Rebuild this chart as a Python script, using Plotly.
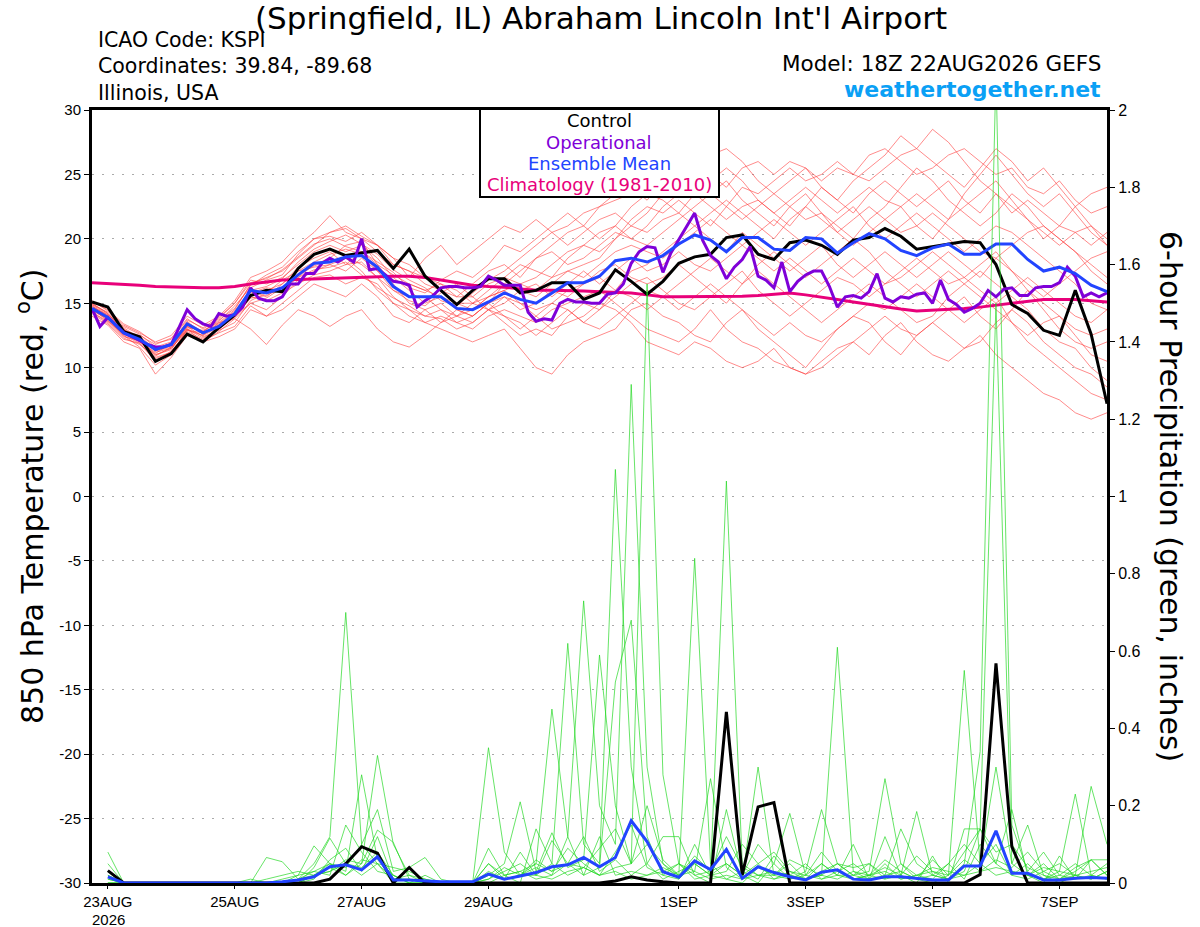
import pandas as pd
import plotly.graph_objects as go

# time axes: 6-hourly GEFS, 3-hourly operational run
times = pd.date_range("2026-08-22 18:00", periods=65, freq="6h")
op_times = pd.date_range("2026-08-22 18:00", periods=129, freq="3h")
precip_times = times[1:]

# 850 hPa temperature (C)
control_temp = [15.1, 14.7, 12.8, 12.4, 10.5, 11.1, 12.6, 12.0, 13.1, 14.1,
                15.6, 16.0, 15.9, 17.7, 18.8, 19.2, 18.7, 18.9, 19.1, 17.7,
                19.2, 17.1, 16.0, 14.9, 16.0, 16.9, 16.9, 15.8, 16.0, 16.6,
                16.6, 15.3, 15.8, 17.6, 16.7, 15.7, 16.7, 18.1, 18.6, 18.8,
                20.1, 20.3, 18.8, 18.4, 19.7, 19.9, 19.5, 18.8, 19.9, 20.1,
                20.8, 20.2, 19.2, 19.4, 19.6, 19.8, 19.7, 18.0, 14.9, 14.2,
                12.9, 12.5, 16.0, 12.6, 7.2]

mean_temp = [14.6, 13.9, 12.7, 12.2, 11.4, 11.8, 13.4, 12.7, 13.2, 14.2,
             16.0, 15.8, 16.2, 17.2, 18.1, 18.2, 18.6, 18.7, 17.8, 16.3,
             15.5, 15.5, 15.5, 14.6, 14.5, 15.1, 15.8, 15.3, 15.0, 15.8,
             16.6, 16.6, 17.1, 18.3, 18.5, 18.2, 18.7, 19.6, 20.3, 19.9,
             19.0, 20.1, 20.1, 19.2, 19.1, 20.1, 20.0, 18.9, 19.7, 20.4,
             20.0, 19.1, 18.7, 19.3, 19.6, 18.8, 18.8, 19.6, 19.6, 18.4,
             17.5, 17.8, 17.3, 16.4, 15.9]

clim_temp = [16.6, 16.55, 16.5, 16.4, 16.3, 16.25, 16.2, 16.2, 16.2, 16.3,
             16.5, 16.65, 16.8, 16.85, 16.9, 16.95, 17.0, 17.05, 17.1, 17.1,
             17.1, 17.0, 16.8, 16.6, 16.4, 16.3, 16.25, 16.1, 16.0, 16.0,
             16.0, 15.95, 15.9, 15.85, 15.8, 15.65, 15.5, 15.5, 15.5, 15.5,
             15.5, 15.55, 15.6, 15.7, 15.8, 15.65, 15.5, 15.3, 15.1, 14.9,
             14.7, 14.55, 14.4, 14.45, 14.5, 14.6, 14.7, 14.85, 15.0, 15.15,
             15.3, 15.3, 15.3, 15.2, 15.1]

oper_temp = [14.6, 13.2, 13.9, 13.3, 12.7, 12.4, 12.1, 11.8, 11.6, 11.6,
             11.8, 13.2, 14.5, 13.8, 13.4, 13.2, 14.2, 14.0, 14.1, 14.7,
             16.2, 15.4, 15.2, 15.2, 15.5, 16.5, 16.5, 17.3, 17.3, 18.1,
             18.5, 18.2, 18.6, 18.2, 20.0, 17.6, 17.7, 17.2, 16.7, 16.6,
             16.4, 14.7, 15.2, 15.6, 16.2, 16.3, 16.3, 16.2, 16.2, 16.3,
             17.1, 16.8, 16.4, 16.4, 16.4, 14.3, 13.6, 13.8, 13.7, 15.0,
             15.3, 15.1, 15.1, 15.0, 15.0, 15.7, 15.8, 16.5, 18.1, 19.0,
             19.4, 19.3, 17.4, 18.9, 19.9, 20.9, 22.0, 19.9, 18.7, 18.2,
             16.9, 17.8, 18.4, 19.4, 17.1, 16.8, 16.2, 18.2, 15.9, 16.7,
             17.2, 17.5, 17.5, 16.3, 14.7, 15.5, 15.6, 15.4, 15.9, 17.3,
             15.4, 15.1, 15.5, 15.4, 15.7, 15.8, 15.0, 16.8, 15.3, 14.9,
             14.3, 14.6, 15.0, 16.0, 15.5, 16.1, 16.2, 15.6, 15.6, 16.2,
             16.3, 16.3, 16.6, 17.8, 17.1, 15.5, 15.8, 15.5, 15.8]

# ensemble members, temperature
temp_m01 = [14.8, 14.0, 13.0, 12.0, 11.0, 11.5, 13.0, 12.5, 13.5,
            14.5, 16.5, 17.0, 17.5, 18.5, 19.5, 20.5, 20.8, 20.0, 19.0, 18.0, 17.5,
            16.5, 16.0, 15.5, 16.5, 17.5, 18.0, 17.0, 18.5, 19.5, 20.5, 21.0, 22.5, 23.5, 24.0, 23.0, 24.5,
            25.5, 26.0, 25.0, 24.0, 25.5, 26.0, 25.0, 26.0, 25.5, 24.5, 25.5, 25.0, 26.5, 27.0, 26.0, 25.0,
            25.5, 26.5, 27.0, 26.0, 25.0, 25.5, 24.0, 23.5, 24.5, 23.0, 22.0, 22.5]
temp_m02 = [14.3, 13.5, 12.3, 11.8, 10.8, 11.2, 12.8, 12.2, 13.0,
            14.0, 15.5, 15.2, 15.8, 16.5, 17.2, 17.5, 18.0, 18.2, 17.0, 15.5, 14.5,
            14.0, 14.5, 13.5, 13.0, 14.0, 14.5, 14.0, 13.5, 14.5, 15.0, 15.5, 16.0, 15.0, 14.0, 13.0, 12.5,
            12.0, 13.0, 14.5, 13.0, 12.0, 11.5, 10.5, 10.0, 9.5, 10.5, 11.5, 12.0, 11.0, 12.5, 13.5, 12.0,
            11.0, 10.5, 11.5, 12.5, 11.0, 10.0, 9.0, 8.0, 7.5, 6.5, 6.0, 6.5]
temp_m03 = [15.0, 14.2, 12.9, 12.5, 11.8, 12.3, 13.8, 13.0, 13.8,
            15.0, 16.8, 16.5, 17.0, 18.0, 19.0, 19.5, 19.0, 19.5, 18.5, 17.0, 16.0,
            15.0, 15.5, 14.5, 14.0, 15.0, 16.5, 16.0, 15.5, 16.5, 17.5, 18.0, 18.5, 20.0, 21.0, 20.5, 21.5,
            22.0, 23.5, 22.5, 21.5, 22.5, 23.0, 22.0, 21.0, 22.5, 24.0, 23.0, 22.0, 23.5, 24.5, 23.5, 22.5,
            23.5, 24.5, 23.0, 22.0, 23.5, 22.5, 21.5, 20.0, 21.0, 20.5, 19.5, 20.5]
temp_m04 = [14.5, 13.7, 12.5, 11.6, 10.2, 11.0, 13.0, 12.0, 12.8,
            13.8, 15.0, 14.5, 15.5, 16.8, 17.5, 18.0, 18.5, 17.5, 16.0, 15.0, 14.0,
            13.5, 13.0, 12.5, 12.0, 12.5, 13.0, 11.5, 10.0, 9.5, 11.0, 12.0, 12.5, 13.0, 14.5, 15.0, 14.0,
            13.5, 12.5, 12.0, 13.5, 14.5, 13.0, 12.0, 11.0, 10.0, 11.5, 13.0, 14.0, 13.5, 12.0, 11.0, 12.5,
            13.5, 14.5, 15.5, 14.0, 13.0, 14.5, 16.0, 15.0, 14.0, 12.5, 11.0, 10.5]
temp_m05 = [14.7, 14.1, 13.2, 12.6, 11.6, 12.0, 13.5, 12.8, 13.6,
            14.8, 16.2, 16.8, 17.2, 18.8, 20.0, 20.5, 21.0, 20.2, 19.5, 18.5, 18.0,
            17.0, 16.5, 16.0, 15.0, 16.0, 17.0, 16.5, 17.0, 18.0, 19.0, 19.5, 20.5, 21.0, 20.0, 19.5, 20.5,
            21.5, 22.5, 23.5, 24.5, 23.0, 22.0, 21.0, 22.5, 23.5, 22.0, 20.5, 21.5, 22.5, 21.5, 20.5, 21.0,
            22.0, 21.0, 20.0, 19.0, 18.5, 17.5, 16.5, 15.5, 16.5, 17.5, 18.5, 19.0]
temp_m06 = [14.4, 13.8, 12.6, 12.0, 11.2, 11.5, 12.9, 12.5, 13.1,
            14.0, 15.8, 16.2, 16.0, 17.0, 18.0, 18.5, 19.5, 19.8, 18.0, 16.5, 15.0,
            14.5, 15.0, 14.0, 14.5, 15.5, 16.0, 15.0, 14.5, 15.0, 16.0, 16.5, 17.5, 18.0, 17.0, 16.5, 17.0,
            18.0, 17.0, 16.0, 15.0, 16.5, 17.5, 16.5, 15.5, 14.5, 13.5, 14.5, 15.5, 16.5, 15.5, 14.5, 13.5,
            14.0, 15.5, 16.5, 17.5, 16.5, 15.5, 14.5, 13.0, 12.0, 11.5, 10.0, 9.0]
temp_m07 = [14.9, 14.3, 13.1, 12.3, 11.3, 11.8, 13.3, 12.7, 13.4,
            14.4, 16.0, 15.5, 16.5, 17.8, 18.5, 19.0, 18.0, 19.0, 18.0, 17.2, 16.5,
            16.0, 16.5, 15.5, 15.5, 16.5, 17.0, 18.0, 17.5, 17.0, 18.5, 19.5, 19.0, 20.0, 21.5, 22.5, 22.0,
            23.0, 22.0, 21.0, 22.5, 24.0, 23.5, 24.5, 25.5, 24.5, 25.0, 26.0, 25.0, 24.5, 25.5, 26.5, 27.0,
            26.0, 25.0, 24.0, 25.5, 27.0, 26.0, 24.5, 25.5, 24.0, 22.5, 21.0, 20.0]
temp_m08 = [14.6, 13.6, 12.4, 12.1, 10.9, 11.6, 13.2, 12.4, 12.9,
            13.5, 15.2, 15.8, 16.8, 17.5, 17.8, 18.0, 17.5, 18.5, 17.5, 16.0, 15.5,
            15.5, 14.5, 14.0, 13.5, 14.5, 15.5, 14.5, 15.0, 16.0, 15.5, 16.5, 17.0, 16.0, 17.5, 18.0, 19.0,
            20.0, 21.0, 20.0, 19.0, 20.5, 19.5, 18.5, 17.5, 18.5, 19.5, 18.0, 17.0, 18.0, 19.0, 18.0, 17.0,
            18.0, 19.0, 18.0, 17.0, 18.5, 19.5, 20.5, 21.0, 20.0, 19.0, 18.0, 17.0]
temp_m09 = [14.2, 13.4, 12.2, 11.9, 10.5, 11.3, 12.7, 12.1, 12.7,
            13.2, 14.8, 14.0, 15.0, 16.0, 17.0, 17.2, 16.5, 17.0, 16.5, 15.0, 14.5,
            13.5, 14.0, 13.5, 14.0, 15.0, 15.5, 15.0, 14.0, 13.0, 13.5, 14.0, 15.0, 14.5, 13.5, 12.0, 11.5,
            11.0, 12.0, 11.5, 10.5, 10.0, 10.5, 11.5, 10.0, 9.5, 10.0, 11.0, 12.0, 13.0, 14.0, 13.0, 12.5,
            13.5, 12.5, 11.5, 12.0, 13.5, 14.5, 13.5, 12.0, 11.0, 10.0, 9.5, 8.5]
temp_m10 = [15.2, 14.4, 13.3, 12.7, 12.0, 12.5, 14.0, 13.3, 14.0,
            15.2, 17.0, 17.5, 18.2, 19.5, 20.5, 21.8, 20.5, 20.0, 19.5, 18.5, 17.0,
            18.5, 19.5, 18.0, 19.0, 20.0, 21.0, 20.5, 21.5, 20.5, 21.0, 22.0, 22.5, 23.0, 23.5, 24.5, 25.0,
            24.0, 25.0, 26.5, 27.0, 26.0, 24.5, 23.5, 24.5, 25.5, 24.0, 23.0, 24.5, 25.5, 26.5, 28.0, 27.0,
            28.5, 27.5, 26.0, 24.5, 23.5, 22.0, 23.0, 22.0, 21.0, 22.5, 23.5, 24.0]
temp_m11 = [14.5, 13.9, 12.8, 12.4, 11.5, 11.9, 13.6, 12.6, 13.3,
            14.3, 15.6, 16.0, 16.5, 17.5, 18.2, 18.8, 19.2, 18.8, 17.5, 16.8, 16.5,
            16.0, 15.5, 15.0, 15.0, 15.5, 16.0, 16.5, 16.0, 17.0, 17.5, 17.0, 18.0, 19.0, 19.5, 19.0, 18.5,
            19.5, 20.5, 21.5, 20.5, 19.5, 20.5, 21.5, 20.5, 19.5, 20.5, 21.5, 22.5, 21.0, 20.0, 21.0, 22.0,
            21.0, 20.0, 19.0, 20.0, 21.0, 20.5, 19.5, 18.5, 17.5, 16.5, 15.0, 14.5]
temp_m12 = [14.0, 13.3, 12.0, 11.5, 9.5, 10.8, 12.5, 12.0, 12.4,
            13.0, 14.5, 14.0, 14.5, 15.5, 16.5, 16.0, 15.5, 16.5, 15.5, 14.0, 13.5,
            14.5, 13.5, 14.0, 15.0, 14.5, 13.5, 12.5, 13.0, 12.5, 14.0, 15.0, 14.5, 15.5, 16.5, 17.0, 16.0,
            15.0, 14.5, 15.5, 16.5, 17.5, 16.0, 15.0, 14.0, 15.0, 16.0, 17.0, 16.5, 15.5, 16.5, 17.5, 18.5,
            17.5, 16.5, 17.0, 18.0, 19.0, 17.5, 16.0, 14.5, 13.0, 12.0, 11.5, 12.0]
temp_m13 = [14.8, 14.0, 12.9, 12.3, 11.4, 11.7, 13.1, 12.9, 13.5,
            13.8, 13.0, 11.8, 13.3, 14.5, 14.0, 13.2, 14.0, 14.5, 13.0, 12.0, 11.6,
            12.5, 13.5, 14.5, 14.0, 15.0, 14.0, 13.0, 14.0, 15.0, 14.5, 13.5, 14.5, 16.0, 15.5, 14.5, 15.5,
            16.5, 17.5, 18.5, 17.5, 16.5, 18.0, 19.0, 18.0, 17.0, 18.0, 19.0, 20.0, 19.0, 17.5, 16.5, 15.5,
            16.5, 17.5, 16.5, 15.5, 14.5, 13.5, 12.5, 13.5, 14.0, 13.0, 12.5, 13.0]
temp_m14 = [15.0, 14.2, 13.0, 12.2, 11.0, 11.4, 13.2, 12.8, 13.7,
            14.6, 16.4, 17.2, 17.8, 19.0, 20.0, 20.2, 19.8, 20.5, 19.5, 18.0, 17.5,
            17.0, 16.0, 15.0, 14.5, 15.5, 16.5, 17.5, 18.5, 19.0, 18.0, 18.5, 19.5, 20.5, 20.0, 21.0, 22.5,
            23.5, 24.5, 23.5, 22.5, 21.5, 22.5, 23.5, 22.5, 21.5, 22.0, 21.0, 20.0, 21.5, 22.5, 24.0, 25.5,
            24.5, 23.0, 22.0, 21.0, 22.0, 23.5, 22.5, 21.0, 20.0, 19.0, 17.5, 16.5]
temp_m15 = [14.9, 14.1, 12.7, 12.1, 11.1, 11.9, 13.4, 12.6, 13.2,
            14.2, 16.0, 16.3, 16.9, 18.2, 19.2, 19.8, 20.3, 19.6, 18.8, 17.6, 16.8,
            16.2, 15.2, 14.8, 15.8, 16.8, 17.5, 18.5, 19.5, 20.5, 19.5, 20.5, 21.5, 22.0, 21.0, 22.0, 23.5,
            24.5, 23.5, 24.5, 25.5, 24.5, 23.0, 22.0, 23.0, 24.0, 23.0, 22.0, 23.0, 24.0, 23.0, 22.5, 23.5,
            22.5, 21.5, 22.5, 23.5, 24.5, 23.0, 21.5, 20.5, 19.5, 20.5, 21.0, 19.5]
temp_m16 = [14.3, 13.6, 12.6, 12.3, 11.3, 11.6, 13.0, 12.3, 13.0,
            13.9, 15.4, 15.6, 16.2, 17.2, 17.9, 18.3, 18.6, 18.0, 17.0, 16.0, 15.2,
            14.8, 15.8, 16.5, 15.5, 14.5, 15.0, 16.0, 16.5, 15.5, 16.5, 17.5, 16.5, 17.5, 18.5, 17.5, 18.0,
            19.0, 18.0, 17.5, 18.5, 19.5, 18.5, 17.5, 18.5, 17.5, 16.5, 17.5, 18.5, 17.5, 16.5, 17.0, 18.0,
            19.0, 18.0, 17.0, 16.0, 15.0, 16.0, 17.0, 16.0, 15.0, 14.0, 13.5, 14.5]
temp_m17 = [14.6, 13.8, 12.5, 11.9, 10.7, 11.2, 12.9, 12.7, 13.3,
            14.0, 15.0, 15.4, 16.2, 17.0, 17.6, 17.8, 18.2, 17.2, 16.2, 15.4, 14.8,
            14.0, 13.8, 13.0, 13.5, 14.5, 14.0, 13.5, 12.5, 13.5, 14.5, 13.5, 13.0, 14.0, 15.0, 16.0, 15.5,
            14.5, 15.5, 16.5, 15.5, 14.5, 13.5, 12.5, 13.5, 12.5, 12.0, 13.0, 14.0, 15.0, 14.5, 15.5, 16.5,
            15.5, 14.5, 13.5, 14.5, 15.5, 13.5, 12.0, 11.0, 10.0, 9.0, 8.0, 7.5]
temp_m18 = [15.1, 14.5, 13.4, 12.8, 11.9, 12.2, 13.7, 13.1, 13.9,
            15.0, 16.6, 16.9, 17.6, 18.6, 19.6, 20.0, 19.4, 19.0, 18.2, 17.4, 16.2,
            15.8, 16.8, 17.5, 17.0, 18.0, 19.5, 19.0, 20.0, 21.0, 22.0, 21.0, 20.0, 21.0, 22.5, 23.5, 23.0,
            22.0, 21.0, 22.0, 23.0, 22.0, 21.0, 20.0, 21.5, 22.5, 21.5, 20.5, 19.5, 20.5, 21.5, 22.5, 21.0,
            20.0, 21.5, 23.5, 25.0, 26.5, 25.0, 23.5, 22.5, 23.5, 22.0, 20.5, 19.5]

# 6-hour precipitation (inches), from the first 6-h step
control_precip = [0.032, 0, 0, 0, 0, 0, 0, 0,
                  0, 0, 0, 0, 0, 0, 0.01, 0.05,
                  0.094, 0.077, 0, 0.04, 0, 0, 0, 0,
                  0, 0, 0, 0, 0, 0, 0, 0,
                  0.005, 0.016, 0.008, 0.003, 0, 0, 0, 0.443,
                  0.021, 0.197, 0.208, 0, 0, 0, 0, 0,
                  0, 0, 0, 0, 0, 0, 0, 0.022,
                  0.568, 0.094, 0, 0, 0, 0, 0, 0]
mean_precip = [0.016, 0, 0, 0, 0, 0, 0, 0,
               0, 0, 0, 0.003, 0.008, 0.016, 0.042, 0.047,
               0.034, 0.068, 0.008, 0.008, 0.006, 0.003, 0.003, 0.003,
               0.023, 0.01, 0.018, 0.027, 0.042, 0.047, 0.066, 0.042,
               0.066, 0.161, 0.107, 0.029, 0.015, 0.057, 0.035, 0.087,
               0.012, 0.042, 0.027, 0.016, 0.008, 0.028, 0.034, 0.01,
               0.008, 0.016, 0.016, 0.012, 0.008, 0.008, 0.044, 0.044,
               0.135, 0.025, 0.025, 0.008, 0.008, 0.012, 0.014, 0.012]

precip_m01 = [0.08, 0, 0, 0, 0, 0, 0, 0,
              0, 0, 0, 0, 0.01, 0.05, 0.12, 0.70,
              0.10, 0.05, 0, 0, 0, 0, 0, 0,
              0.09, 0.02, 0, 0.14, 0.05, 0.62, 0.10, 0.05,
              1.07, 0.30, 0.05, 0.12, 0.12, 0.02, 0, 0.19,
              0.02, 0, 0.05, 0.18, 0.02, 0.05, 0.02, 0.10,
              0.01, 0.12, 0.02, 0, 0.07, 0, 0.14, 0.14,
              0.05, 0.19, 0.02, 0, 0.07, 0.01, 0.06, 0.06]
precip_m02 = [0.05, 0, 0, 0, 0, 0, 0, 0,
              0, 0, 0, 0, 0, 0.02, 0.05, 0.03,
              0.28, 0.06, 0.02, 0, 0, 0, 0, 0,
              0.35, 0.08, 0.02, 0.05, 0.45, 0.12, 0.73, 0.20,
              0.10, 1.29, 0.30, 0.05, 0.02, 0.84, 0.05, 0.01,
              0, 0.04, 0.02, 0.01, 0.03, 0.19, 0.05, 0.02,
              0.03, 0.27, 0.05, 0.01, 0, 0.02, 0.55, 0.05,
              0.30, 0.05, 0.15, 0.02, 0, 0.02, 0.25, 0.10]
precip_m03 = [0.03, 0, 0, 0, 0, 0, 0, 0,
              0, 0, 0.01, 0.02, 0.03, 0.02, 0.03, 0.06,
              0.05, 0.33, 0.10, 0.02, 0.01, 0, 0, 0,
              0.02, 0.05, 0.21, 0.03, 0.13, 0.04, 0.06, 0.59,
              0.20, 0.05, 1.55, 0.28, 0.05, 0.03, 0.27, 0.04,
              0.01, 0.30, 0.02, 0.05, 0.01, 0.02, 0.61, 0.03,
              0.01, 0.02, 0.14, 0.05, 0.02, 0.01, 0.05, 0.34,
              2.10, 0.15, 0.03, 0.08, 0.02, 0.01, 0.02, 0.01]
precip_m04 = [0.02, 0, 0, 0, 0, 0, 0, 0,
              0, 0, 0.066, 0.055, 0.01, 0.03, 0.05, 0.04,
              0.10, 0.19, 0.03, 0.04, 0.066, 0.01, 0, 0,
              0.05, 0.02, 0.03, 0.01, 0.02, 0.12, 0.02, 0.04,
              0.52, 0.68, 0.12, 0.02, 0.01, 0.05, 0.02, 1.04,
              0.05, 0.02, 0.01, 0.03, 0.01, 0.05, 0.02, 0.01,
              0.02, 0.04, 0.02, 0.185, 0.02, 0.01, 0.03, 0.14,
              1.50, 0.05, 0.02, 0.01, 0.03, 0.23, 0.02, 0.01]
precip_m05 = [0.01, 0, 0, 0, 0, 0, 0, 0,
              0, 0, 0, 0, 0.02, 0.096, 0.05, 0.02,
              0.05, 0.137, 0.105, 0.01, 0, 0, 0, 0,
              0.01, 0.03, 0.05, 0.02, 0.05, 0.02, 0.04, 0.02,
              0.04, 0.05, 0.10, 0.05, 0.01, 0.10, 0.02, 0.05,
              0.02, 0.10, 0.05, 0.01, 0.02, 0.01, 0.03, 0.05,
              0.02, 0.01, 0.05, 0.02, 0.04, 0.03, 0.02, 0.05,
              0.10, 0.02, 0.01, 0.03, 0.01, 0.02, 0.01, 0.03]
precip_m06 = [0, 0, 0, 0, 0, 0, 0, 0,
              0, 0, 0, 0, 0, 0.04, 0.116, 0.05,
              0.02, 0.05, 0.04, 0.03, 0.01, 0, 0, 0,
              0.03, 0.01, 0.02, 0.04, 0.02, 0.05, 0.02, 0.12,
              0.02, 0.03, 0.02, 0.03, 0.05, 0.01, 0.02, 0.03,
              0.10, 0.05, 0.01, 0.02, 0.05, 0.01, 0.02, 0.02,
              0.01, 0.05, 0.01, 0.02, 0.01, 0.05, 0.01, 0.10,
              0.05, 0.02, 0.05, 0.01, 0.02, 0.05, 0.02, 0.05]
precip_m07 = [0, 0, 0, 0, 0, 0, 0, 0,
              0, 0, 0, 0, 0, 0.02, 0.03, 0.05,
              0.04, 0.08, 0.02, 0, 0.02, 0, 0, 0,
              0, 0.02, 0.03, 0.05, 0.03, 0.05, 0.12, 0.03,
              0.06, 0.02, 0.05, 0.01, 0.03, 0.05, 0.02, 0.01,
              0.03, 0.01, 0.07, 0.02, 0.01, 0.03, 0.05, 0.02,
              0.05, 0.02, 0.03, 0.01, 0.02, 0.05, 0.10, 0.05,
              0.02, 0.03, 0.02, 0.05, 0.01, 0.03, 0.06, 0.02]
precip_m08 = [0.01, 0, 0, 0, 0, 0, 0, 0,
              0, 0, 0, 0, 0.01, 0.02, 0.04, 0.02,
              0.06, 0.05, 0.01, 0.02, 0, 0, 0, 0,
              0.02, 0.01, 0.02, 0.02, 0.01, 0.03, 0.04, 0.02,
              0.03, 0.01, 0.02, 0.04, 0.02, 0.03, 0.01, 0.02,
              0.01, 0.02, 0.03, 0.02, 0.01, 0.02, 0.01, 0.03,
              0.02, 0.03, 0.01, 0.02, 0.03, 0.01, 0.02, 0.03,
              0.04, 0.03, 0.02, 0.04, 0.03, 0.02, 0.01, 0.03]
precip_m09 = [0.02, 0, 0, 0, 0, 0, 0, 0,
              0, 0.01, 0, 0, 0, 0.01, 0.06, 0.09,
              0.03, 0.12, 0.01, 0.01, 0, 0, 0, 0,
              0.05, 0.01, 0.08, 0.02, 0.11, 0.05, 0.04, 0.09,
              0.14, 0.05, 0.20, 0.06, 0.02, 0.07, 0.03, 0.05,
              0.02, 0.05, 0.08, 0.03, 0.02, 0.08, 0.03, 0.01,
              0.02, 0.06, 0.03, 0.01, 0.06, 0.02, 0.08, 0.14,
              0.08, 0.10, 0.04, 0.02, 0.01, 0.04, 0.06, 0.02]
precip_m10 = [0, 0, 0, 0, 0, 0, 0, 0,
              0, 0, 0, 0.01, 0.02, 0.03, 0.02, 0.15,
              0.08, 0.03, 0.02, 0, 0, 0, 0, 0,
              0.01, 0.04, 0.02, 0.06, 0.03, 0.09, 0.05, 0.02,
              0.08, 0.15, 0.04, 0.02, 0.05, 0.02, 0.03, 0.12,
              0.04, 0.02, 0.02, 0.06, 0.04, 0.02, 0.05, 0.04,
              0.05, 0.01, 0.02, 0.07, 0.03, 0.02, 0.06, 0.03,
              0.06, 0.04, 0.08, 0.03, 0.05, 0.02, 0.03, 0.04]

temp_members = [temp_m01, temp_m02, temp_m03, temp_m04, temp_m05, temp_m06,
                temp_m07, temp_m08, temp_m09, temp_m10, temp_m11, temp_m12,
                temp_m13, temp_m14, temp_m15, temp_m16, temp_m17, temp_m18]
precip_members = [precip_m01, precip_m02, precip_m03, precip_m04, precip_m05,
                  precip_m06, precip_m07, precip_m08, precip_m09, precip_m10]

tick_dates = ["2026-08-23", "2026-08-25", "2026-08-27", "2026-08-29",
              "2026-09-01", "2026-09-03", "2026-09-05", "2026-09-07"]
tick_labels = ["23AUG", "25AUG", "27AUG", "29AUG", "1SEP", "3SEP", "5SEP", "7SEP"]
temp_ticks = [-30, -25, -20, -15, -10, -5, 0, 5, 10, 15, 20, 25, 30]
precip_ticks = [0, 0.2, 0.4, 0.6, 0.8, 1, 1.2, 1.4, 1.6, 1.8, 2]

PURPLE = "#7f00d8"
BLUE = "#2244ff"
PINK = "#e8007a"
TEXT_FONT = "DejaVu Sans, Liberation Sans, sans-serif"
TICK_FONT = "Liberation Sans, Arial, sans-serif"

fig = go.Figure()

for m in temp_members:
    fig.add_trace(go.Scatter(x=times, y=m, mode="lines",
                             line=dict(color="rgba(255,60,60,0.75)", width=0.8)))

fig.add_trace(go.Scatter(x=times, y=clim_temp, mode="lines", line=dict(color=PINK, width=3)))
fig.add_trace(go.Scatter(x=times, y=control_temp, mode="lines", line=dict(color="black", width=3)))
fig.add_trace(go.Scatter(x=op_times, y=oper_temp, mode="lines", line=dict(color=PURPLE, width=3)))
fig.add_trace(go.Scatter(x=times, y=mean_temp, mode="lines", line=dict(color=BLUE, width=3)))

for m in precip_members:
    fig.add_trace(go.Scatter(x=precip_times, y=m, mode="lines", yaxis="y2",
                             line=dict(color="rgba(30,215,30,0.85)", width=0.8)))
fig.add_trace(go.Scatter(x=precip_times, y=control_precip, mode="lines", yaxis="y2",
                         line=dict(color="black", width=3)))
fig.add_trace(go.Scatter(x=precip_times, y=mean_precip, mode="lines", yaxis="y2",
                         line=dict(color=BLUE, width=3)))


def px(x):
    return (x - 92) / 1015


def py(y):
    return (883 - y) / 773


def note(text, x, y, size, xanchor="left", color="black", angle=0, family=TEXT_FONT):
    fig.add_annotation(text=text, x=px(x), y=py(y), xref="paper", yref="paper",
                       xanchor=xanchor, yanchor="middle", showarrow=False,
                       textangle=angle, font=dict(family=family, size=size, color=color))


note("(Springfield, IL) Abraham Lincoln Int'l Airport", 601, 18, 31, "center")
note("ICAO Code: KSPI", 96, 40, 20.5)
note("Coordinates: 39.84, -89.68", 96, 66, 20.5)
note("Illinois, USA", 96, 93, 20.5)
note("Model: 18Z 22AUG2026 GEFS", 1103, 63, 21.5, "right")
note("<b>weathertogether.net</b>", 1103, 89, 22, "right", "#0aa0f5")
note("850 hPa Temperature (red, <sup>o</sup>C)", 30, 496, 30, "center", angle=-90)
note("6-hour Precipitation (green, inches)", 1171, 496, 30, "center", angle=90)
# year under the first date tick
note("2026", 108, 919, 15, "center", family=TICK_FONT)

fig.add_shape(type="rect", xref="paper", yref="paper", x0=px(480), x1=px(719),
              y0=py(197), y1=py(109), fillcolor="white",
              line=dict(color="black", width=2), layer="above")
note("Control", 599, 121, 18, "center")
note("Operational", 599, 142, 18, "center", PURPLE)
note("Ensemble Mean", 599, 163, 18, "center", BLUE)
note("Climatology (1981-2010)", 599, 185, 18, "center", PINK)

fig.update_layout(
    width=1200, height=927,
    margin=dict(l=92, r=93, t=110, b=44),
    paper_bgcolor="white", plot_bgcolor="white",
    showlegend=False,
    font=dict(family=TICK_FONT, color="black"),
    xaxis=dict(range=[times[0], times[-1]], tickvals=tick_dates, ticktext=tick_labels,
               ticks="outside", ticklen=3, tickcolor="black", tickfont=dict(size=15),
               showline=True, linewidth=3, linecolor="black", mirror=True,
               showgrid=False, zeroline=False, automargin=False),
    yaxis=dict(range=[-30, 30], tickvals=temp_ticks, ticktext=[str(t) for t in temp_ticks],
               ticks="outside", ticklen=5, tickcolor="black", tickfont=dict(size=15),
               showline=True, linewidth=3, linecolor="black", mirror=True,
               showgrid=True, gridcolor="#aaaaaa", gridwidth=1, griddash="2px,8px",
               zeroline=False, automargin=False),
    yaxis2=dict(range=[0, 2], overlaying="y", side="right", tickvals=precip_ticks,
                ticktext=[f"{t:g}" for t in precip_ticks],
                ticks="outside", ticklen=5, tickcolor="black", tickfont=dict(size=16),
                showline=True, linewidth=3, linecolor="black",
                showgrid=False, zeroline=False, automargin=False),
)

fig.write_html("out.html", config={"displayModeBar": False},
               post_script="document.body.style.margin='0';")
